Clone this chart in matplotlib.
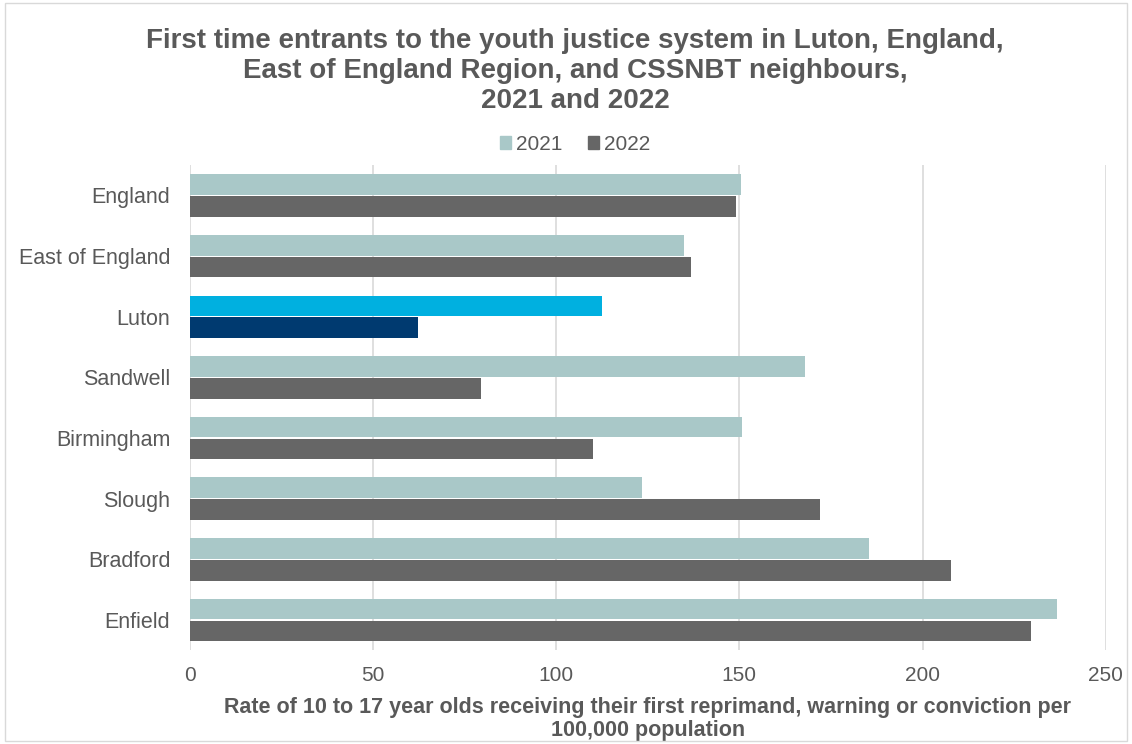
import matplotlib
matplotlib.use("Agg")
import matplotlib.pyplot as plt
import numpy as np
from matplotlib.patches import Rectangle, Patch

plt.rcParams['font.family'] = ['Liberation Sans', 'DejaVu Sans']

categories = ["England", "East of England", "Luton", "Sandwell", "Birmingham", "Slough", "Bradford", "Enfield"]
values_2021 = [150.4, 134.9, 112.6, 167.9, 150.8, 123.4, 185.4, 236.8]
values_2022 = [149.0, 136.9, 62.3, 79.6, 110.0, 172.0, 207.8, 229.5]
xticks = [0, 50, 100, 150, 200, 250]

c21 = "#A9C8C8"
c22 = "#666666"
luton21 = "#00B0E0"
luton22 = "#003A70"
txt = "#595959"

fig = plt.figure(figsize=(11.32, 7.44), dpi=100)
ax = fig.add_axes([0.1676, 0.126, 0.8092, 0.652])

y = np.arange(len(categories))
h = 0.34
col21 = [luton21 if c == "Luton" else c21 for c in categories]
col22 = [luton22 if c == "Luton" else c22 for c in categories]
ax.barh(y - 0.18, values_2021, height=h, color=col21, zorder=3)
ax.barh(y + 0.18, values_2022, height=h, color=col22, zorder=3)

ax.set_ylim(len(categories) - 0.5, -0.5)
ax.set_xlim(0, 250)
ax.set_yticks(y)
ax.set_yticklabels(categories, fontsize=15.5, color=txt)
ax.set_xticks(xticks)
ax.set_xticklabels([str(t) for t in xticks], fontsize=15, color=txt)
ax.tick_params(axis='y', length=0, pad=14)
ax.tick_params(axis='x', length=0, pad=11)
ax.grid(axis='x', color="#D9D9D9", linewidth=1.2, zorder=0)
for s in ax.spines.values():
    s.set_visible(False)

ax.set_xlabel("Rate of 10 to 17 year olds receiving their first reprimand, warning or conviction per\n100,000 population",
              fontsize=15.5, fontweight='bold', color=txt, labelpad=9, linespacing=1.1)

fig.text(0.508, 0.963,
         "First time entrants to the youth justice system in Luton, England,\nEast of England Region, and CSSNBT neighbours,\n2021 and 2022",
         ha='center', va='top', fontsize=20, fontweight='bold', color=txt, linespacing=1.2)

handles = [Patch(color=c21, label="2021"), Patch(color=c22, label="2022")]
fig.legend(handles=handles, loc='center', bbox_to_anchor=(0.508, 0.806), ncol=2, frameon=False,
           fontsize=15, handlelength=0.55, handleheight=0.55, handletextpad=0.25, columnspacing=1.2,
           labelcolor=txt)

fig.patches.append(Rectangle((0.004, 0.004), 0.992, 0.992, transform=fig.transFigure,
                             fill=False, edgecolor="#D9D9D9", linewidth=1))

fig.savefig("out.png", dpi=100)
